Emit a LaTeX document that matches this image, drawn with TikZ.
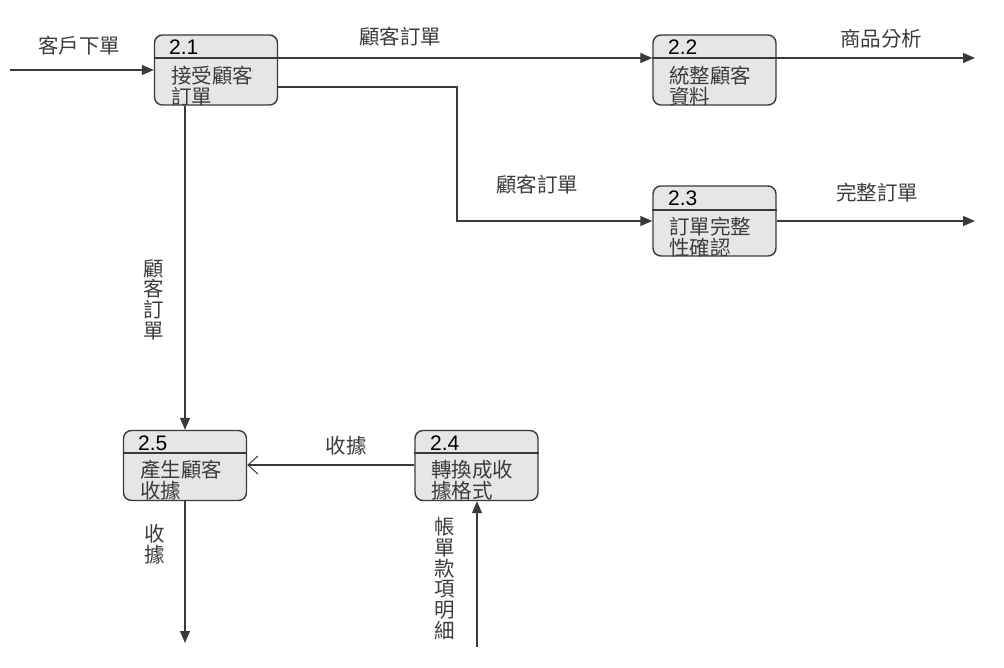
\documentclass[tikz,border=0pt]{standalone}
\usepackage{fontspec}
\setmainfont{Liberation Sans}
\newfontfamily\cjk{Noto Sans CJK TC}
\usetikzlibrary{arrows.meta}
\definecolor{ln}{HTML}{3A3A3A}
\definecolor{tx}{HTML}{3C3C3C}
\definecolor{bx}{HTML}{E6E6E6}
\tikzset{
  proc/.style={draw=ln, line width=1.4pt, fill=bx, rounded corners=8pt, minimum width=123pt, minimum height=70pt, inner sep=0pt},
  hdr/.style={draw=ln, line width=1.2pt},
  num/.style={font=\fontsize{21}{21}\selectfont, text=black, anchor=base west, inner sep=0pt},
  ptext/.style={font=\cjk\fontsize{20.5}{21}\selectfont, text=tx, anchor=north west, align=left, inner sep=0pt},
  lab/.style={font=\cjk\fontsize{20.5}{21}\selectfont, text=tx, inner sep=0pt},
  vlab/.style={font=\cjk\fontsize{20.5}{20.8}\selectfont, text=tx, align=center, inner sep=0pt, anchor=north},
  flow/.style={draw=ln, line width=1.2pt, -{Triangle[length=12pt,width=10pt]}},
  oflow/.style={draw=ln, line width=1.2pt, -{Straight Barb[length=10pt,width=18pt,line width=1pt]}},
}
\begin{document}
\begin{tikzpicture}[x=1pt,y=-1pt]
\useasboundingbox (0,0) rectangle (1004,668);
% process boxes
\node[proc] (b21) at (216,70) {};
\node[proc] (b22) at (714.5,70) {};
\node[proc] (b23) at (714.5,221) {};
\node[proc] (b25) at (185,465.5) {};
\node[proc] (b24) at (476.5,465.5) {};
% header lines
\draw[hdr] (b21.west |- 0,58) -- (b21.east |- 0,58);
\draw[hdr] (b22.west |- 0,58) -- (b22.east |- 0,58);
\draw[hdr] (b23.west |- 0,210) -- (b23.east |- 0,210);
\draw[hdr] (b25.west |- 0,453) -- (b25.east |- 0,453);
\draw[hdr] (b24.west |- 0,453) -- (b24.east |- 0,453);
% numbers
\node[num] (n21) at (169,55) {2.1};
\node[num] (n22) at (668,55) {2.2};
\node[num] (n23) at (668,206) {2.3};
\node[num] (n25) at (138,450) {2.5};
\node[num] (n24) at (430,450) {2.4};
% process texts
\node[ptext] (t21) at (171,66) {接受顧客\\訂單};
\node[ptext] (t22) at (669,66) {統整顧客\\資料};
\node[ptext] (t23) at (669,217) {訂單完整\\性確認};
\node[ptext] (t25) at (140,460) {產生顧客\\收據};
\node[ptext] (t24) at (431,460) {轉換成收\\據格式};
% free ends
\coordinate (src) at (10,70);
\coordinate (out1) at (975,58);
\coordinate (out2) at (975,221);
\coordinate (out3) at (185,643);
\coordinate (src2) at (477,647);
\coordinate (bend) at (457,87);
% connectors
\draw[flow] (src) -- (b21.west |- src);
\draw[flow] (b21.east |- 0,58) -- (b22.west |- 0,58);
\draw[flow] (b21.east |- bend) -- (bend) |- (b23.west |- 0,221);
\draw[flow] (b22.east |- out1) -- (out1);
\draw[flow] (b23.east |- out2) -- (out2);
\draw[flow] (b21.south -| b25.north) -- (b25.north);
\draw[oflow] (b24.west |- 0,465) -- (b25.east |- 0,465);
\draw[flow] (b25.south) -- (out3);
\draw[flow] (src2) -- (b24.south -| src2);
% labels
\node[lab] (l1) at (79,46) {客戶下單};
\node[lab] (l2) at (400,37) {顧客訂單};
\node[lab] (l3) at (537,185) {顧客訂單};
\node[lab] (l4) at (881,39) {商品分析};
\node[lab] (l5) at (877,193) {完整訂單};
\node[lab] (l6) at (346,446) {收據};
\node[vlab] (l7) at (154,259) {顧\\客\\訂\\單};
\node[vlab] (l8) at (155,524) {收\\據};
\node[vlab] (l9) at (445,517) {帳\\單\\款\\項\\明\\細};
\end{tikzpicture}
\end{document}
